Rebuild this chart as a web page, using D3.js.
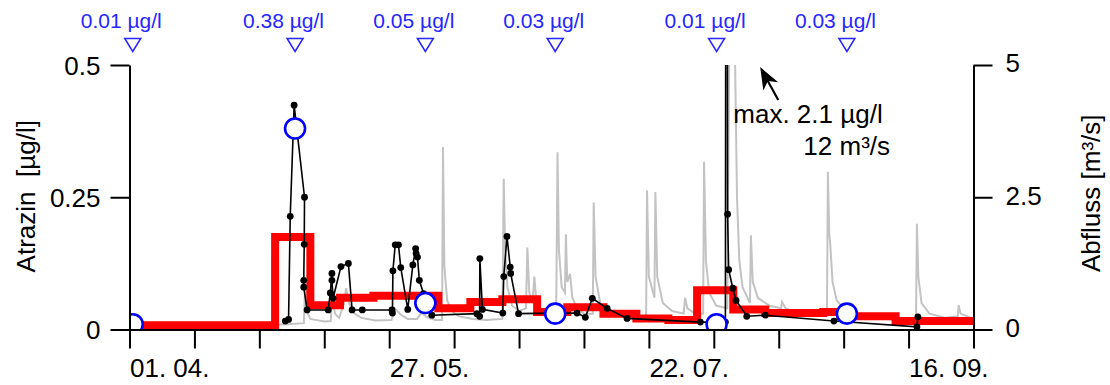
<!DOCTYPE html>
<html><head><meta charset="utf-8">
<script src="https://cdn.jsdelivr.net/npm/d3@7"></script>
<style>
html,body{margin:0;padding:0;background:#fff;}
svg{display:block;font-family:"Liberation Sans",Arial,sans-serif;}
</style></head><body>
<svg id="chart" width="1110" height="385"></svg>
<script>
// ---------- data ----------
const seasonStart = "2003-04-01";           // day 0 = 01.04.
const seasonLength = 182;                    // days, to 30.09.
const xTickStep = 14;                        // days between x ticks
const xTickLabels = ["01. 04.", "27. 05.", "22. 07.", "16. 09."];
const leftTickValues = [0, 0.25, 0.5];
const rightTickValues = [0, 2.5, 5];

// discharge (Abfluss, m3/s): [day, value]
const discharge = [
 [0,0.10],[10,0.10],[20,0.09],[30,0.09],[34,0.10],[37.6,0.12],[37.9,0.9],[38.2,0.35],[39,0.2],
 [42,0.15],[43.4,0.16],[43.7,0.65],[44.3,0.3],[45.2,0.22],[46.3,0.5],[46.7,0.78],[47.3,0.5],
 [48.5,0.3],[50,0.22],[53,0.17],[56.5,0.18],[57.2,0.4],[58.5,0.28],[60,0.2],[62,0.2],[63,0.32],
 [64,0.24],[66,0.18],[67.4,0.18],[67.6,3.45],[67.9,1.2],[68.5,0.55],[69.5,0.35],[71,0.25],
 [74,0.2],[77,0.18],[80.4,0.2],[80.7,2.85],[81.0,1.5],[81.5,0.8],[82.5,0.45],[84,0.35],
 [85.5,0.4],[85.8,1.55],[86.2,0.7],[86.9,0.5],[87.3,1.0],[87.8,0.45],[89,0.3],[92,0.25],[92.3,3.35],[92.6,1.5],
 [93.2,0.8],[93.9,0.7],[94.1,1.8],[94.4,0.9],[95.0,1.05],[95.5,0.6],[96.5,0.4],[98,0.3],
 [99.9,0.3],[100.1,2.4],[100.5,1.0],[101.5,0.5],[103,0.35],[106,0.25],[109,0.2],[111.4,0.22],
 [111.6,2.63],[112,1.0],[113.2,0.6],[113.4,2.6],[113.8,1.0],[115,0.5],[117,0.35],[119.5,0.3],
 [119.8,0.6],[120.3,0.4],[122,0.3],[123.7,0.3],[123.9,3.17],[124.3,1.3],[125,0.7],[126.5,0.45],
 [128.9,0.4],[129.3,5],[129.6,12],[130.3,10],[130.6,5],[131.0,2.5],[131.5,1.3],[132.2,0.8],
 [133.8,0.5],[134,1.78],[134.4,0.9],[135.5,0.6],[138,0.45],[140.5,0.4],[140.7,0.52],[141.5,0.4],
 [144,0.3],[147,0.25],[150.4,0.3],[150.6,2.98],[150.9,1.8],[151.1,1.63],[151.6,0.9],[152.5,0.55],
 [154,0.4],[157,0.3],[161,0.22],[165,0.18],[169.6,0.2],[169.8,2.0],[170.1,1.0],[170.8,0.5],
 [172.5,0.3],[176,0.22],[178.6,0.25],[178.8,0.46],[179.2,0.3],[182,0.2]
];

// event samples (Atrazin, ug/l): [day, value]
const eventSamples = [
 [33.6,0.016],[34.3,0.019],[34.66,0.214],[35.5,0.424],[37.74,0.25],[37.68,0.161],[37.57,0.093],
 [37.57,0.08],[38.3,0.037],[42.85,0.037],[43.3,0.069],[43.65,0.106],[43.65,0.093],[43.9,0.059],
 [45.6,0.119],[47.2,0.125],[48.0,0.037],[50.2,0.037],[56.6,0.037],[56.7,0.031],[56.8,0.111],
 [57.3,0.16],[58.0,0.16],[58.5,0.117],[60.0,0.038],[61.1,0.122],[61.7,0.153],[61.8,0.144],
 [62.1,0.137],[62.5,0.093],[63.4,0.068],[65.2,0.027],[74.9,0.030],[75.5,0.025],[75.55,0.134],
 [76.1,0.038],[80.5,0.031],[80.7,0.1],[81.4,0.176],[82.1,0.118],[82.2,0.106],[83.9,0.030],
 [91.8,0.031],[96.5,0.031],[98.3,0.023],[99.8,0.059],[103,0.04],[107.3,0.021],[123.1,0.014],
 [128.5,0.014],[128.73,2.1],[128.77,2.1],[128.97,0.218],[129.2,0.113],[130.1,0.078],[130.8,0.055],
 [133.1,0.025],[137.1,0.027],[151.9,0.016],[169.8,0.005],[170.0,0.024]
];

// composite (flow-proportional) samples: step start day and mean concentration
const compositeStartDays = [0,31.4,39,45.4,52.6,66.6,73.5,80.4,87.9,94.4,102.2,109.3,116.2,122.4,130.2,137.1,149.6,153.3,165.2,182];
const compositeConc      = [0.008,0.175,0.046,0.060,0.064,0.040,0.052,0.057,0.033,0.042,0.030,0.021,0.018,0.074,0.038,0.031,0.033,0.025,0.016,0.016];

// grab samples (blue circles)
const grabDays = [0.7, 35.7, 63.8, 91.8, 126.6, 154.7];
const grabConc = [0.01, 0.38, 0.05, 0.03, 0.01, 0.03];
const grabLabels = ["0.01 µg/l","0.38 µg/l","0.05 µg/l","0.03 µg/l","0.01 µg/l","0.03 µg/l"];

// annotation
const maxNote = ["max. 2.1 µg/l", "12 m³/s"];

// ---------- drawing ----------
const W = 1110, H = 385;
const margin = {top: 65, right: 136.5, bottom: 55.5, left: 129.5};
const t0 = new Date(seasonStart + "T00:00:00Z");
const toDate = d => new Date(t0.getTime() + d * 864e5);

const x = d3.scaleUtc().domain([t0, toDate(seasonLength)]).range([margin.left, W - margin.right]);
const yL = d3.scaleLinear().domain([0, 0.5]).range([H - margin.bottom, margin.top]);
const yR = d3.scaleLinear().domain([0, 5]).range([H - margin.bottom, margin.top]);

const svg = d3.select("#chart");
const FS = 26;

svg.append("defs").append("clipPath").attr("id","plotclip")
  .append("rect").attr("x", margin.left).attr("y", margin.top)
  .attr("width", W - margin.left - margin.right).attr("height", H - margin.top - margin.bottom + 1.5);

const plot = svg.append("g").attr("clip-path","url(#plotclip)");

// discharge (grey)
plot.append("path").datum(discharge)
  .attr("fill","none").attr("stroke","#c3c3c3").attr("stroke-width",2)
  .attr("d", d3.line().x(d => x(toDate(d[0]))).y(d => yR(d[1])));

// composite steps (red)
const steps = compositeStartDays.map((d,i) => [d, compositeConc[i]]);
plot.append("path").datum(steps)
  .attr("fill","none").attr("stroke","#ff0000").attr("stroke-width",8)
  .attr("stroke-linejoin","miter")
  .attr("d", d3.line().curve(d3.curveStepAfter).x(d => x(toDate(d[0]))).y(d => yL(d[1])));

// event samples (black)
plot.append("path").datum(eventSamples)
  .attr("fill","none").attr("stroke","#000").attr("stroke-width",1.6)
  .attr("d", d3.line().x(d => x(toDate(d[0]))).y(d => yL(d[1])));
plot.selectAll("circle.ev").data(eventSamples).join("circle").attr("class","ev")
  .attr("cx", d => x(toDate(d[0]))).attr("cy", d => yL(d[1])).attr("r",3.4).attr("fill","#000");

// grab samples (blue circles)
plot.selectAll("circle.grab").data(grabDays).join("circle").attr("class","grab")
  .attr("cx", d => x(toDate(d))).attr("cy", (d,i) => yL(grabConc[i])).attr("r",10)
  .attr("fill","#fff").attr("stroke","#0000ff").attr("stroke-width",2.6);

// top markers
const markerG = svg.append("g");
grabDays.forEach((d,i) => {
  const cx = x(toDate(d));
  markerG.append("path")
    .attr("d", `M${cx-8},38.5 L${cx+8},38.5 L${cx},51.5 Z`)
    .attr("fill","none").attr("stroke","#2626ff").attr("stroke-width",1.5);
  markerG.append("text").attr("x", cx - 11.5).attr("y", 27.5)
    .attr("text-anchor","middle").attr("font-size",21).attr("fill","#2626ff")
    .text(grabLabels[i]);
});

// axes
const xTicks = d3.range(0, seasonLength + 1, xTickStep).map(toDate);
const gx = svg.append("g").attr("transform",`translate(0,${H - margin.bottom})`)
  .call(d3.axisBottom(x).tickValues(xTicks).tickSize(19).tickSizeOuter(0).tickPadding(10)
    .tickFormat((d,i) => i % 4 === 0 ? (xTickLabels[i/4] || "") : ""));
gx.selectAll("text").attr("text-anchor","start").attr("font-size",FS).attr("fill","#000").attr("dx","0");

const gl = svg.append("g").attr("transform",`translate(${margin.left},0)`)
  .call(d3.axisLeft(yL).tickValues(leftTickValues).tickSize(19).tickSizeOuter(0).tickPadding(10)
    .tickFormat(d3.format("")));
gl.selectAll("text").attr("font-size",FS).attr("fill","#000").attr("dy","0.36em");

const gr = svg.append("g").attr("transform",`translate(${W - margin.right},0)`)
  .call(d3.axisRight(yR).tickValues(rightTickValues).tickSize(19).tickSizeOuter(0).tickPadding(13)
    .tickFormat(d3.format("")));
gr.selectAll("text").attr("font-size",FS).attr("fill","#000").attr("dy","0.26em");

[gx, gl, gr].forEach(g => {
  g.selectAll("path.domain").attr("stroke","#000").attr("stroke-width",2);
  g.selectAll(".tick line").attr("stroke","#000").attr("stroke-width",2);
  g.attr("font-family", null);
});

// axis titles
svg.append("text").attr("transform",`translate(35,${(margin.top + H - margin.bottom)/2 - 1}) rotate(-90)`)
  .attr("text-anchor","middle").attr("font-size",FS)
  .style("white-space","pre").text("Atrazin  [µg/l]");
svg.append("text").attr("transform",`translate(1100,${(margin.top + H - margin.bottom)/2 - 4}) rotate(-90)`)
  .attr("text-anchor","middle").attr("font-size",FS).text("Abfluss [m³/s]");

// annotation arrow + text
const tip = [x(toDate(136.0)), yL(0.496)];
const tail = [x(toDate(139.9)), yL(0.434)];
const vx = tip[0]-tail[0], vy = tip[1]-tail[1], L = Math.hypot(vx,vy);
const ux = vx/L, uy = vy/L, px = -uy, py = ux;
const hl = 22, hw = 8.5;
const base = [tip[0]-ux*hl, tip[1]-uy*hl];
const notch = [tip[0]-ux*hl*0.72, tip[1]-uy*hl*0.72];
svg.append("line").attr("x1",tail[0]).attr("y1",tail[1]).attr("x2",notch[0]).attr("y2",notch[1])
  .attr("stroke","#000").attr("stroke-width",2.2);
svg.append("path").attr("d",
  `M${tip[0]},${tip[1]} L${base[0]+px*hw},${base[1]+py*hw} L${notch[0]},${notch[1]} L${base[0]-px*hw},${base[1]-py*hw} Z`)
  .attr("fill","#000");

svg.append("text").attr("x", x(toDate(130.2))).attr("y", yL(0.391))
  .attr("font-size",FS).text(maxNote[0]);
svg.append("text").attr("x", x(toDate(164.0))).attr("y", yL(0.329))
  .attr("text-anchor","end").attr("font-size",FS).text(maxNote[1]);
</script>
</body></html>
